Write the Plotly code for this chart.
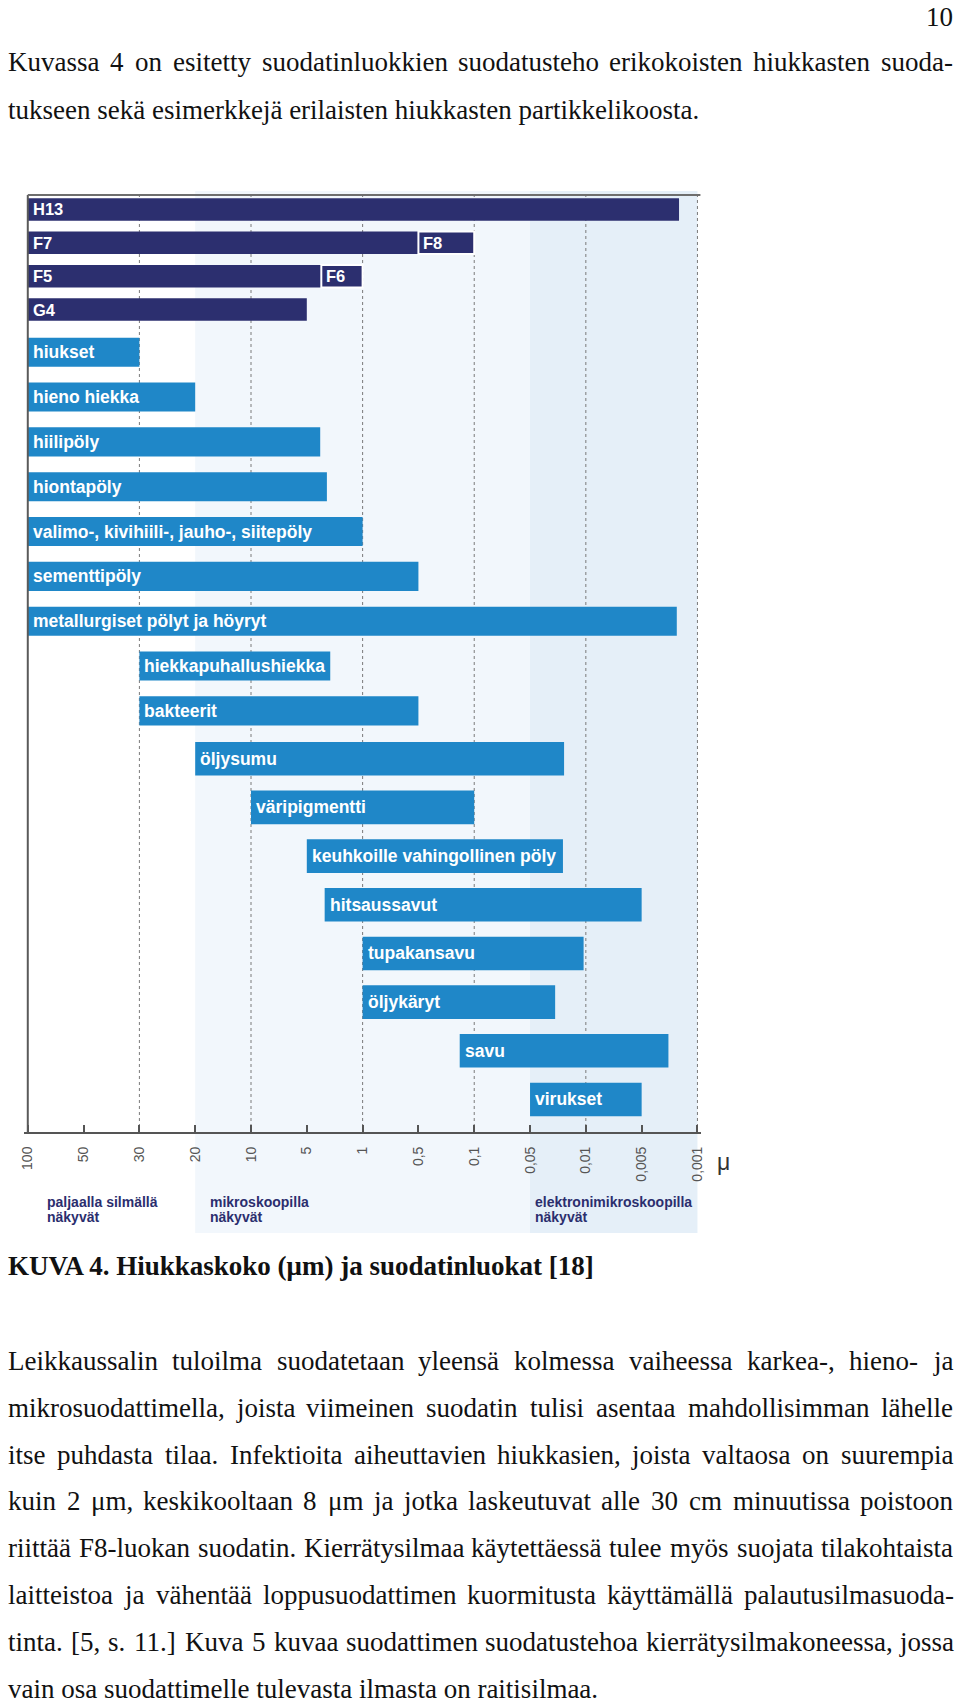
import plotly.graph_objects as go

W, H = 960, 1704

# ---------------- data ----------------
size_ticks = ["100", "50", "30", "20", "10", "5", "1", "0,5", "0,1", "0,05", "0,01", "0,005", "0,001"]

filter_classes = ["H13", "F7", "F5", "G4"]
filter_from = [0, 0, 0, 0]
filter_to = [11.67, 7.0, 5.26, 5.0]

upper_classes = ["F8", "F6"]
upper_rows = ["F7", "F5"]
upper_from = [7.0, 5.26]
upper_to = [8.0, 6.0]

particles_a = ["hiukset", "hieno hiekka", "hiilipöly", "hiontapöly",
               "valimo-, kivihiili-, jauho-, siitepöly", "sementtipöly",
               "metallurgiset pölyt ja höyryt", "hiekkapuhallushiekka", "bakteerit"]
particles_a_from = [0, 0, 0, 0, 0, 0, 0, 2.0, 2.0]
particles_a_to = [2.0, 3.0, 5.24, 5.36, 6.0, 7.0, 11.63, 5.42, 7.0]

particles_b = ["öljysumu", "väripigmentti", "keuhkoille vahingollinen pöly", "hitsaussavut",
               "tupakansavu", "öljykäryt", "savu", "virukset"]
particles_b_from = [3.0, 4.0, 5.0, 5.32, 6.0, 6.0, 7.74, 9.0]
particles_b_to = [9.61, 8.0, 9.59, 11.0, 9.96, 9.45, 11.48, 11.0]

zone_edges = [0, 3, 9, 12]
zone_line1 = ["paljaalla silmällä", "mikroskoopilla", "elektronimikroskoopilla"]
zone_line2 = ["näkyvät", "näkyvät", "näkyvät"]
grid_at = [2, 4, 6, 8, 10, 12]

page_number = "10"
intro_lines = [
    "Kuvassa 4 on esitetty suodatinluokkien suodatusteho erikokoisten hiukkasten suoda-",
    "tukseen sekä esimerkkejä erilaisten hiukkasten partikkelikoosta.",
]
caption = "KUVA 4. Hiukkaskoko (μm) ja suodatinluokat [18]"
body_lines = [
    "Leikkaussalin tuloilma suodatetaan yleensä kolmessa vaiheessa karkea-, hieno- ja",
    "mikrosuodattimella, joista viimeinen suodatin tulisi asentaa mahdollisimman lähelle",
    "itse puhdasta tilaa. Infektioita aiheuttavien hiukkasien, joista valtaosa on suurempia",
    "kuin 2 μm, keskikooltaan 8 μm ja jotka laskeutuvat alle 30 cm minuutissa poistoon",
    "riittää F8-luokan suodatin. Kierrätysilmaa käytettäessä tulee myös suojata tilakohtaista",
    "laitteistoa ja vähentää loppusuodattimen kuormitusta käyttämällä palautusilmasuoda-",
    "tinta. [5, s. 11.] Kuva 5 kuvaa suodattimen suodatustehoa kierrätysilmakoneessa, jossa",
    "vain osa suodattimelle tulevasta ilmasta on raitisilmaa.",
]

# ---------------- styling ----------------
NAVY = "#2C2F6F"
BLUE = "#1F87C8"
SERIF = "Liberation Serif, Times New Roman, serif"
SANS = "Liberation Sans, Arial, sans-serif"


def fx(px):
    return px / W


def fy(py):
    return 1 - py / H


# chart geometry (pixels)
X0, X12 = 23.0, 699.0
PX_PER = (X12 - X0) / 12.0
PAD = 0.06
AXIS_Y = 1133
TOP_Y = 195
SHADE_TOP, SHADE_BOT = 191, 1233

fig = go.Figure()

common = dict(orientation="h", hoverinfo="skip", showlegend=False, xaxis="x")
fig.add_trace(go.Bar(y=filter_classes, base=filter_from,
                     x=[t - f for f, t in zip(filter_from, filter_to)],
                     marker=dict(color=NAVY, line=dict(width=0)), width=0.675, yaxis="y", **common))
fig.add_trace(go.Bar(y=upper_rows, base=upper_from,
                     x=[t - f for f, t in zip(upper_from, upper_to)],
                     marker=dict(color=NAVY, line=dict(color="white", width=2)), width=0.675,
                     yaxis="y", **common))
fig.add_trace(go.Bar(y=particles_a, base=particles_a_from,
                     x=[t - f for f, t in zip(particles_a_from, particles_a_to)],
                     marker=dict(color=BLUE, line=dict(width=0)), width=0.65, yaxis="y2", **common))
fig.add_trace(go.Bar(y=particles_b, base=particles_b_from,
                     x=[t - f for f, t in zip(particles_b_from, particles_b_to)],
                     marker=dict(color=BLUE, line=dict(width=0)), width=0.69, yaxis="y3", **common))

shapes = []
# shaded visibility zones
zone_fill = [None, "#F2F7FC", "#E5EFF8"]
for i in range(3):
    if zone_fill[i]:
        shapes.append(dict(type="rect", xref="x", yref="paper",
                           x0=zone_edges[i], x1=zone_edges[i + 1],
                           y0=fy(SHADE_BOT), y1=fy(SHADE_TOP),
                           fillcolor=zone_fill[i], line=dict(width=0), layer="below"))
# dotted grid
for g in grid_at:
    shapes.append(dict(type="line", xref="x", yref="paper", x0=g, x1=g,
                       y0=fy(AXIS_Y), y1=fy(TOP_Y),
                       line=dict(color="#7A7A7A", width=1, dash="dot"), layer="below"))
# left axis line and top border
shapes.append(dict(type="line", xref="paper", yref="paper", x0=fx(X0), x1=fx(X0),
                   y0=fy(AXIS_Y), y1=fy(TOP_Y), line=dict(color="#5A5A5A", width=2)))
shapes.append(dict(type="line", xref="paper", yref="paper", x0=fx(X0), x1=fx(X12 + 3),
                   y0=fy(TOP_Y), y1=fy(TOP_Y), line=dict(color="#6E6E6E", width=2)))

ann = []


def label(text, x, y, yref, size):
    ann.append(dict(x=x, y=y, xref="x", yref=yref, text=text, showarrow=False,
                    xanchor="left", yanchor="middle", xshift=5, borderpad=0, borderwidth=0,
                    font=dict(family=SANS, size=size, color="white", weight="bold")))


for i, (n, s) in enumerate(zip(filter_classes, filter_from)):
    label(n, s, i, "y", 16.5)
for n, r, s in zip(upper_classes, upper_rows, upper_from):
    label(n, s, filter_classes.index(r), "y", 16.5)
for i, (n, s) in enumerate(zip(particles_a, particles_a_from)):
    label(n, s, i, "y2", 17.5)
for i, (n, s) in enumerate(zip(particles_b, particles_b_from)):
    label(n, s, i, "y3", 17.5)

# zone captions
zone_x = [42, 207, 535]
for l1, l2, zx in zip(zone_line1, zone_line2, zone_x):
    for txt, yy in ((l1, 1202), (l2, 1217)):
        ann.append(dict(x=fx(zx), y=fy(yy), xref="paper", yref="paper", text=txt, showarrow=False,
                        xanchor="left", yanchor="middle", borderpad=0, borderwidth=0,
                        font=dict(family=SANS, size=14, color="#2B2E6E", weight="bold")))
# unit
ann.append(dict(x=fx(725), y=fy(1162), xref="paper", yref="paper", text="μ", showarrow=False,
                xanchor="center", yanchor="middle", font=dict(family=SANS, size=23, color="#333333")))

# ---------------- page text ----------------
TIMES = {" ": 250, ".": 250, ",": 250, "-": 333, "(": 333, ")": 333, "[": 333, "]": 333,
         "ä": 444, "ö": 500, "μ": 500,
         "A": 722, "B": 667, "C": 667, "D": 722, "E": 611, "F": 556, "G": 722, "H": 722, "I": 333,
         "J": 389, "K": 722, "L": 611, "M": 889, "N": 722, "O": 722, "P": 556, "Q": 722, "R": 667,
         "S": 556, "T": 611, "U": 722, "V": 722, "W": 944, "X": 722, "Y": 722, "Z": 611,
         "a": 444, "b": 500, "c": 444, "d": 500, "e": 444, "f": 333, "g": 500, "h": 500, "i": 278,
         "j": 278, "k": 500, "l": 278, "m": 778, "n": 500, "o": 500, "p": 500, "q": 500, "r": 333,
         "s": 389, "t": 278, "u": 500, "v": 500, "w": 722, "x": 500, "y": 500, "z": 444}
for d in "0123456789":
    TIMES[d] = 500

FS = 27
LEFT, RIGHT = 3.0, 956.0


def tw(s):
    return sum(TIMES.get(c, 500) for c in s) * FS / 1000.0


def text_line(text, baseline, justify, bold=False):
    yc = baseline - 0.3375 * FS
    font = dict(family=SERIF, size=FS, color="#111111", weight="bold" if bold else "normal")
    if not justify:
        ann.append(dict(x=fx(LEFT), y=fy(yc), xref="paper", yref="paper", text=text,
                        showarrow=False, xanchor="left", yanchor="middle", borderpad=0,
                        borderwidth=0, font=font))
        return
    words = text.split(" ")
    widths = [tw(w) for w in words]
    gap = (RIGHT - LEFT - sum(widths)) / (len(words) - 1)
    gap = max(gap, tw(" "))
    x = LEFT
    for w, wd in zip(words, widths):
        ann.append(dict(x=fx(x), y=fy(yc), xref="paper", yref="paper", text=w,
                        showarrow=False, xanchor="left", yanchor="middle", borderpad=0,
                        borderwidth=0, font=font))
        x += wd + gap


ann.append(dict(x=fx(957), y=fy(26 - 0.3375 * FS), xref="paper", yref="paper", text=page_number,
                showarrow=False, xanchor="right", yanchor="middle", borderpad=0, borderwidth=0,
                font=dict(family=SERIF, size=FS, color="#111111")))
intro_base = [70.7, 119.0]
for k, (ln, b) in enumerate(zip(intro_lines, intro_base)):
    text_line(ln, b, justify=(k < len(intro_lines) - 1))
text_line(caption, 1275, justify=False, bold=True)
for k, ln in enumerate(body_lines):
    text_line(ln, 1370 + k * 46.85, justify=(k < len(body_lines) - 1))

fig.update_layout(
    width=W, height=H, margin=dict(l=0, r=0, t=0, b=0),
    paper_bgcolor="white", plot_bgcolor="rgba(0,0,0,0)",
    barmode="overlay", showlegend=False,
    xaxis=dict(domain=[fx(X0 - PAD * PX_PER), fx(X12 + PAD * PX_PER)], range=[-PAD, 12 + PAD],
               anchor="free", position=fy(AXIS_Y), tickmode="array",
               tickvals=list(range(len(size_ticks))), ticktext=size_ticks, tickangle=-90,
               ticks="inside", ticklen=7, tickwidth=2, tickcolor="#555555",
               showline=True, linecolor="#555555", linewidth=2, showgrid=False, zeroline=False,
               tickfont=dict(family=SANS, size=14, color="#555555"), ticklabelstandoff=7),
    yaxis=dict(domain=[fy(326.2), fy(192.8)], type="category", categoryorder="array",
               categoryarray=filter_classes, range=[len(filter_classes) - 0.5, -0.5],
               visible=False, anchor="x"),
    yaxis2=dict(domain=[fy(733.3), fy(329.8)], type="category", categoryorder="array",
                categoryarray=particles_a, range=[len(particles_a) - 0.5, -0.5],
                visible=False, anchor="x"),
    yaxis3=dict(domain=[fy(1123.8), fy(734.4)], type="category", categoryorder="array",
                categoryarray=particles_b, range=[len(particles_b) - 0.5, -0.5],
                visible=False, anchor="x"),
    shapes=shapes, annotations=ann,
)

fig.write_html("out.html", config={"displayModeBar": False},
               post_script="document.body.style.margin='0';document.body.style.overflow='hidden';")
